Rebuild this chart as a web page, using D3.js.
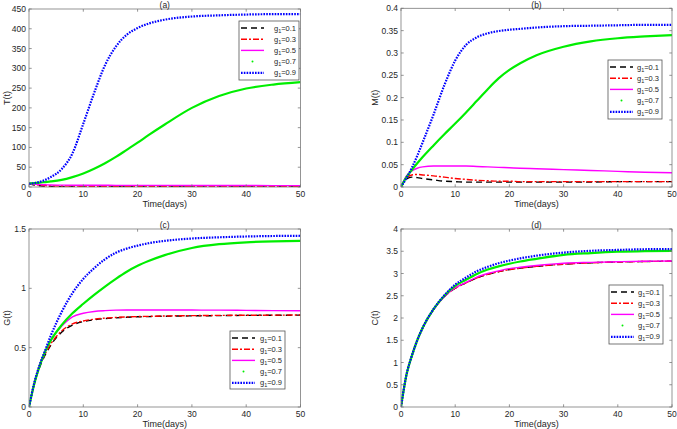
<!DOCTYPE html>
<html>
<head>
<meta charset="utf-8">
<script src="https://cdn.jsdelivr.net/npm/d3@7"></script>
<style>
  body { margin: 0; background: #fff; }
  text { font-family: "Liberation Sans", Arial, sans-serif; fill: #262626; }
</style>
</head>
<body>
<svg id="chart" width="677" height="429"></svg>
<script>
// time grid (days)
var days = [0, 1, 2, 3, 4, 6, 8, 10, 12, 14, 16, 18, 20, 22, 25, 30, 35, 40, 45, 50];
var gValues = ["0.1", "0.3", "0.5", "0.7", "0.9"];

// (a) T(t)
var tG1 = [8, 5, 3, 2, 1.5, 1, 0.8, 0.8, 0.8, 0.8, 0.8, 0.8, 0.8, 0.8, 0.8, 0.8, 0.8, 0.8, 0.8, 0.8];
var tG3 = [8, 6, 4.5, 3.5, 3, 2.5, 2.2, 2, 2, 1.9, 1.9, 1.9, 1.9, 1.8, 1.8, 1.8, 1.8, 1.8, 1.8, 1.8];
var tG5 = [8, 7, 6, 5.5, 5, 4.8, 4.6, 4.5, 4.4, 4.3, 4.2, 4.2, 4.1, 4.1, 4, 3.9, 3.8, 3.7, 3.6, 3.5];
var tG7 = [9, 10, 11, 12.5, 14, 18, 25, 34, 46, 60, 76, 94, 112, 131, 158, 200, 230, 249, 259, 265];
var tG9 = [8, 10, 13, 18, 25, 45, 85, 160, 238, 308, 355, 385, 402, 413, 423, 431, 434, 436, 437, 437];

// (b) M(t)
var mG1 = [0, 0.018, 0.022, 0.021, 0.019, 0.016, 0.013, 0.012, 0.011, 0.011, 0.011, 0.011, 0.011, 0.011, 0.011, 0.011, 0.011, 0.012, 0.012, 0.012];
var mG3 = [0, 0.02, 0.027, 0.028, 0.027, 0.025, 0.022, 0.019, 0.017, 0.015, 0.014, 0.013, 0.013, 0.012, 0.012, 0.012, 0.012, 0.012, 0.012, 0.012];
var mG5 = [0, 0.025, 0.036, 0.042, 0.045, 0.047, 0.047, 0.047, 0.047, 0.046, 0.045, 0.044, 0.043, 0.042, 0.041, 0.039, 0.037, 0.035, 0.033, 0.032];
var mG7 = [0, 0.022, 0.038, 0.053, 0.067, 0.093, 0.118, 0.142, 0.167, 0.193, 0.219, 0.243, 0.262, 0.277, 0.295, 0.314, 0.326, 0.333, 0.337, 0.34];
var mG9 = [0, 0.02, 0.043, 0.07, 0.1, 0.162, 0.228, 0.283, 0.318, 0.335, 0.344, 0.349, 0.352, 0.354, 0.357, 0.36, 0.361, 0.362, 0.363, 0.363];

// (c) G(t)
var gG1 = [0, 0.2, 0.34, 0.44, 0.52, 0.63, 0.69, 0.72, 0.735, 0.745, 0.751, 0.756, 0.76, 0.762, 0.765, 0.768, 0.77, 0.772, 0.773, 0.774];
var gG3 = [0, 0.2, 0.35, 0.45, 0.53, 0.64, 0.7, 0.725, 0.74, 0.749, 0.755, 0.759, 0.762, 0.764, 0.767, 0.77, 0.772, 0.773, 0.774, 0.775];
var gG5 = [0, 0.2, 0.36, 0.47, 0.56, 0.68, 0.76, 0.79, 0.805, 0.812, 0.816, 0.818, 0.818, 0.818, 0.818, 0.817, 0.816, 0.814, 0.812, 0.811];
var gG7 = [0, 0.2, 0.35, 0.47, 0.56, 0.69, 0.79, 0.87, 0.945, 1.015, 1.08, 1.14, 1.19, 1.23, 1.28, 1.34, 1.372, 1.388, 1.396, 1.4];
var gG9 = [0, 0.21, 0.36, 0.48, 0.6, 0.8, 0.96, 1.08, 1.17, 1.245, 1.3, 1.335, 1.36, 1.38, 1.4, 1.42, 1.43, 1.437, 1.441, 1.443];

// (d) C(t)
var cG1 = [0, 0.72, 1.15, 1.5, 1.78, 2.19, 2.48, 2.67, 2.79, 2.9, 2.98, 3.04, 3.09, 3.12, 3.16, 3.21, 3.24, 3.26, 3.27, 3.275];
var cG3 = [0, 0.72, 1.15, 1.5, 1.78, 2.19, 2.48, 2.67, 2.79, 2.9, 2.98, 3.04, 3.09, 3.12, 3.16, 3.21, 3.24, 3.26, 3.27, 3.275];
var cG5 = [0, 0.72, 1.15, 1.5, 1.78, 2.19, 2.48, 2.68, 2.8, 2.92, 3.0, 3.06, 3.11, 3.14, 3.18, 3.23, 3.25, 3.265, 3.275, 3.28];
var cG7 = [0, 0.72, 1.15, 1.5, 1.78, 2.2, 2.5, 2.72, 2.86, 2.99, 3.09, 3.16, 3.22, 3.27, 3.33, 3.42, 3.46, 3.49, 3.505, 3.51];
var cG9 = [0, 0.72, 1.15, 1.5, 1.78, 2.2, 2.51, 2.75, 2.91, 3.05, 3.15, 3.23, 3.29, 3.34, 3.4, 3.47, 3.51, 3.53, 3.545, 3.55];

var xTicks = [0, 10, 20, 30, 40, 50];

// line styles for g1 = 0.1 ... 0.9
var styles = [
  {color: "#000000", width: 1.4, dash: "6,4"},
  {color: "#ff0000", width: 1.4, dash: "6,2,2,2"},
  {color: "#ff00ff", width: 1.4, dash: null},
  {color: "#00ee00", width: 2.2, dash: null, dot: true},
  {color: "#0000ff", width: 2.2, dash: "1.6,1.2"}
];

var panels = [
  {title: "(a)", ylab: "T(t)", left: 29, right: 300.5, top: 9, bottom: 187,
   ymax: 450, yTicks: d3.range(0, 451, 50), series: [tG1, tG3, tG5, tG7, tG9],
   legend: {x: 239, y: 21, w: 60, h: 59}},
  {title: "(b)", ylab: "M(t)", left: 401, right: 672, top: 8.3, bottom: 187,
   ymax: 0.4, yTicks: d3.range(0, 9).map(function(i) { return i * 0.05; }), series: [mG1, mG3, mG5, mG7, mG9],
   legend: {x: 608, y: 60, w: 54, h: 59}},
  {title: "(c)", ylab: "G(t)", left: 29, right: 300.5, top: 229, bottom: 407,
   ymax: 1.5, yTicks: [0, 0.5, 1, 1.5], series: [gG1, gG3, gG5, gG7, gG9],
   legend: {x: 230, y: 331, w: 55, h: 58}},
  {title: "(d)", ylab: "C(t)", left: 401, right: 672, top: 229, bottom: 407,
   ymax: 4, yTicks: d3.range(0, 9).map(function(i) { return i * 0.5; }), series: [cG1, cG3, cG5, cG7, cG9],
   legend: {x: 609, y: 285, w: 54, h: 59}}
];

var svg = d3.select("svg#chart");
var fmt = function(v) { return String(+v.toFixed(2)); };

panels.forEach(function(p) {
  var x = d3.scaleLinear().domain([0, 50]).range([p.left, p.right]);
  var y = d3.scaleLinear().domain([0, p.ymax]).range([p.bottom, p.top]);
  var g = svg.append("g");

  var clipId = "clip" + p.title.replace(/\W/g, "");
  g.append("clipPath").attr("id", clipId).append("rect")
    .attr("x", p.left).attr("y", p.top - 2)
    .attr("width", p.right - p.left).attr("height", p.bottom - p.top + 2);

  // curves
  var line = d3.line()
    .x(function(d, i) { return x(days[i]); })
    .y(function(d) { return y(d); })
    .curve(d3.curveMonotoneX);
  var lines = g.append("g").attr("clip-path", "url(#" + clipId + ")");
  p.series.forEach(function(s, k) {
    var st = styles[k];
    lines.append("path")
      .attr("d", line(s))
      .attr("fill", "none")
      .attr("stroke", st.color)
      .attr("stroke-width", st.width)
      .attr("stroke-dasharray", st.dash);
  });

  // axes box with inward ticks (matlab style)
  var axColor = "#7a7a7a";
  g.append("rect")
    .attr("x", p.left).attr("y", p.top)
    .attr("width", p.right - p.left).attr("height", p.bottom - p.top)
    .attr("fill", "none").attr("stroke", axColor).attr("stroke-width", 0.8);

  var tl = 2.7;
  xTicks.forEach(function(t) {
    g.append("line").attr("x1", x(t)).attr("x2", x(t)).attr("y1", p.bottom).attr("y2", p.bottom - tl)
      .attr("stroke", axColor).attr("stroke-width", 0.8);
    g.append("line").attr("x1", x(t)).attr("x2", x(t)).attr("y1", p.top).attr("y2", p.top + tl)
      .attr("stroke", axColor).attr("stroke-width", 0.8);
    g.append("text").attr("x", x(t)).attr("y", p.bottom + 9.5)
      .attr("text-anchor", "middle").attr("font-size", 8.5).text(t);
  });
  p.yTicks.forEach(function(v) {
    g.append("line").attr("x1", p.left).attr("x2", p.left + tl).attr("y1", y(v)).attr("y2", y(v))
      .attr("stroke", axColor).attr("stroke-width", 0.8);
    g.append("line").attr("x1", p.right).attr("x2", p.right - tl).attr("y1", y(v)).attr("y2", y(v))
      .attr("stroke", axColor).attr("stroke-width", 0.8);
    g.append("text").attr("x", p.left - 3).attr("y", y(v) + 3)
      .attr("text-anchor", "end").attr("font-size", 8.5).text(fmt(v));
  });

  // labels
  var cx = (p.left + p.right) / 2;
  g.append("text").attr("x", cx).attr("y", Math.max(p.top - 1.5, 7.5))
    .attr("text-anchor", "middle").attr("font-size", 8.5).text(p.title);
  g.append("text").attr("x", cx).attr("y", p.bottom + 20)
    .attr("text-anchor", "middle").attr("font-size", 9).text("Time(days)");
  var ylx = p.left === 29 ? 10 : 378;
  g.append("text")
    .attr("transform", "translate(" + ylx + "," + ((p.top + p.bottom) / 2) + ") rotate(-90)")
    .attr("text-anchor", "middle").attr("font-size", 9).text(p.ylab);

  // legend
  var L = p.legend;
  var lg = g.append("g");
  lg.append("rect").attr("x", L.x).attr("y", L.y).attr("width", L.w).attr("height", L.h)
    .attr("fill", "#fff").attr("stroke", "#555").attr("stroke-width", 0.8);
  gValues.forEach(function(gv, k) {
    var st = styles[k];
    var ry = L.y + 7 + k * 11.2;
    var x0 = L.x + 2, x1 = L.x + 25;
    if (st.dot) {
      lg.append("circle").attr("cx", (x0 + x1) / 2).attr("cy", ry).attr("r", 1).attr("fill", st.color);
    } else {
      lg.append("line").attr("x1", x0).attr("x2", x1).attr("y1", ry).attr("y2", ry)
        .attr("stroke", st.color).attr("stroke-width", st.width).attr("stroke-dasharray", st.dash);
    }
    var t = lg.append("text").attr("x", L.x + L.w - 3).attr("y", ry + 2.5)
      .attr("text-anchor", "end").attr("font-size", 7.5);
    t.append("tspan").text("g");
    t.append("tspan").attr("font-size", 5.5).attr("dy", 2).text("1");
    t.append("tspan").attr("dy", -2).text("=" + gv);
  });
});
</script>
</body>
</html>
